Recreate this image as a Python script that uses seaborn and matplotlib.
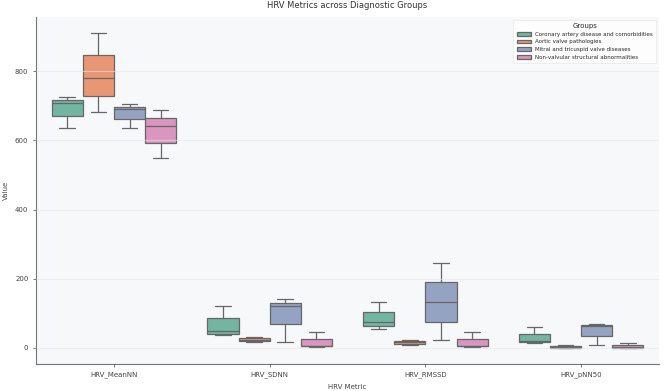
import pandas as pd
import seaborn as sns
import matplotlib.pyplot as plt

metrics = ['HRV_MeanNN', 'HRV_SDNN', 'HRV_RMSSD', 'HRV_pNN50']
groups = ['Coronary artery disease and comorbidities',
          'Aortic valve pathologies',
          'Mitral and tricuspid valve diseases',
          'Non-valvular structural abnormalities']

# five values per box: min, q1, median, q3, max
coronary = {
    'HRV_MeanNN': [637, 672, 709, 717, 725],
    'HRV_SDNN': [36, 41, 48, 85, 121],
    'HRV_RMSSD': [56, 64, 75, 104, 132],
    'HRV_pNN50': [13, 16, 20, 41, 60],
}
aortic = {
    'HRV_MeanNN': [682, 729, 780, 847, 912],
    'HRV_SDNN': [18, 20, 24, 28, 30],
    'HRV_RMSSD': [8, 12, 16, 21, 24],
    'HRV_pNN50': [0, 1, 2, 6, 8],
}
mitral = {
    'HRV_MeanNN': [637, 663, 690, 697, 706],
    'HRV_SDNN': [18, 69, 121, 130, 141],
    'HRV_RMSSD': [22, 75, 132, 190, 245],
    'HRV_pNN50': [7, 34, 62, 66, 69],
}
nonvalvular = {
    'HRV_MeanNN': [548, 594, 643, 665, 688],
    'HRV_SDNN': [2, 4, 6, 26, 46],
    'HRV_RMSSD': [2, 4, 6, 27, 47],
    'HRV_pNN50': [0, 1, 2, 9, 14],
}


def build_frame():
    rows = []
    for group, values in zip(groups, [coronary, aortic, mitral, nonvalvular]):
        for metric in metrics:
            for v in values[metric]:
                rows.append({'HRV Metric': metric, 'Value': v, 'Groups': group})
    return pd.DataFrame(rows)


def main():
    df = build_frame()
    sns.set_theme(style='ticks')
    plt.rcParams['font.family'] = ['DejaVu Sans']
    fig, ax = plt.subplots(figsize=(6.69, 3.91), dpi=100)
    ax.set_facecolor('#f7f8fa')
    sns.boxplot(data=df, x='HRV Metric', y='Value', hue='Groups', palette='Set2',
                whis=10, linewidth=0.9, linecolor='#666666', ax=ax)
    ax.set_axisbelow(False)
    ax.yaxis.grid(True, color='#e4e6ea', alpha=0.6, linewidth=0.8)
    sns.despine(ax=ax)
    for side in ['left', 'bottom']:
        ax.spines[side].set_color('#777777')
        ax.spines[side].set_linewidth(0.8)
    ax.tick_params(labelsize=5, colors='#444444', length=2, width=0.5)
    ax.set_title('HRV Metrics across Diagnostic Groups', fontsize=6, color='#333333')
    ax.set_xlabel('HRV Metric', fontsize=5, color='#444444')
    ax.set_ylabel('Value', fontsize=5, color='#444444')
    leg = ax.legend(title='Groups', loc='upper right', fontsize=4, title_fontsize=5,
                    frameon=True, handlelength=2.5, borderpad=0.6)
    leg.get_frame().set_linewidth(0.4)
    leg.get_frame().set_edgecolor('#dddddd')
    plt.subplots_adjust(left=0.054, right=0.985, top=0.957, bottom=0.07)
    fig.savefig('out.png', dpi=100)


if __name__ == '__main__':
    main()
